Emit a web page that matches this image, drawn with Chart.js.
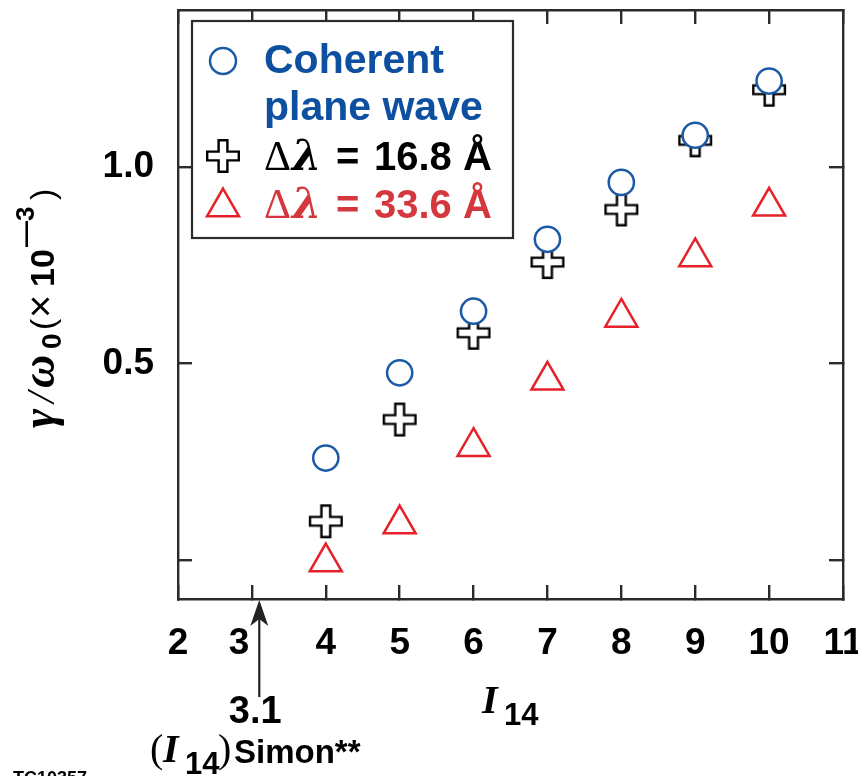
<!DOCTYPE html>
<html>
<head>
<meta charset="utf-8">
<script src="https://cdn.jsdelivr.net/npm/chart.js@4.4.0/dist/chart.umd.min.js"></script>
<style>
  html, body { margin: 0; padding: 0; background: #fff; }
  #wrap { width: 858px; height: 776px; }
</style>
</head>
<body>
<div id="wrap"><canvas id="growthChart" width="858" height="776"></canvas></div>
<script>
// laser intensity I14 of each run
var intensities = [4, 5, 6, 7, 8, 9, 10];
// growth rate gamma/omega0 (x10^-3)
var coherentRates = [0.259, 0.476, 0.633, 0.816, 0.961, 1.081, 1.219];
var bandwidth168Rates = [0.098, 0.357, 0.578, 0.758, 0.892, 1.068, 1.197];
var bandwidth336Rates = [-0.006, 0.091, 0.288, 0.457, 0.617, 0.771, 0.900];

var xTicks = [2, 3, 4, 5, 6, 7, 8, 9, 10, 11];
var xTickLabels = ['2', '3', '4', '5', '6', '7', '8', '9', '10', '11'];
var yTicks = [0, 0.5, 1.0];
var yTickLabels = ['', '0.5', '1.0'];
var simonThreshold = 3.1;

var BLUE = '#1b5aa6';
var RED = '#e62129';
var AXIS = '#2b2b2b';
var SANS = '"Liberation Sans", Arial, sans-serif';
var SERIF = '"Liberation Serif", "Times New Roman", serif';

function toPoints(values) {
    return intensities.map(function (x, i) { return { x: x, y: values[i] }; });
}

// outlined plus sign, used as a point style
function makeCross() {
    var c = document.createElement('canvas');
    c.width = 40; c.height = 40;
    var g = c.getContext('2d');
    var a = 4.4, L = 15.8;
    g.translate(20, 20);
    g.beginPath();
    g.moveTo(-a, -L); g.lineTo(a, -L); g.lineTo(a, -a); g.lineTo(L, -a);
    g.lineTo(L, a); g.lineTo(a, a); g.lineTo(a, L); g.lineTo(-a, L);
    g.lineTo(-a, a); g.lineTo(-L, a); g.lineTo(-L, -a); g.lineTo(-a, -a);
    g.closePath();
    g.fillStyle = '#fff';
    g.fill();
    g.lineWidth = 2.4;
    g.lineJoin = 'miter';
    g.strokeStyle = '#000';
    g.stroke();
    return c;
}
var crossImg = makeCross();

function fixedTicks(values) {
    return function (scale) {
        scale.ticks = values.map(function (v) { return { value: v }; });
    };
}

var tickFont = { family: SANS, weight: 'bold', size: 37, lineHeight: 1 };

function edgeGrid() {
    return {
        display: true,
        drawOnChartArea: false,
        drawTicks: true,
        tickLength: -14,
        color: AXIS,
        lineWidth: 2.4
    };
}
var edgeBorder = { display: true, color: AXIS, width: 2.4 };

var annotations = {
    id: 'annotations',
    afterDraw: function (chart) {
        var ctx = chart.ctx;
        var xs = chart.scales.x;

        ctx.save();

        // legend
        ctx.fillStyle = '#fff';
        ctx.fillRect(192, 21, 321, 217);
        ctx.lineWidth = 2.2;
        ctx.strokeStyle = AXIS;
        ctx.strokeRect(192, 21, 321, 217);

        ctx.beginPath();
        ctx.arc(223, 61, 13, 0, Math.PI * 2);
        ctx.lineWidth = 2.5;
        ctx.strokeStyle = BLUE;
        ctx.stroke();

        ctx.drawImage(crossImg, 203, 136);

        ctx.beginPath();
        var r = 18.5, cy = 207;
        ctx.moveTo(223, cy - r);
        ctx.lineTo(223 + r * Math.sin(2 * Math.PI / 3), cy + r / 2);
        ctx.lineTo(223 - r * Math.sin(2 * Math.PI / 3), cy + r / 2);
        ctx.closePath();
        ctx.strokeStyle = RED;
        ctx.stroke();

        ctx.textBaseline = 'alphabetic';
        ctx.textAlign = 'left';
        ctx.fillStyle = '#0d50a0';
        ctx.font = 'bold 41px ' + SANS;
        ctx.fillText('Coherent', 264, 73);
        ctx.fillText('plane wave', 264, 120);

        [['#000', '16.8 Å', 170], ['#d4373d', '33.6 Å', 218]].forEach(function (row) {
            ctx.fillStyle = row[0];
            ctx.font = '42px ' + SERIF;
            ctx.fillText('Δ', 264, row[2]);
            ctx.font = 'italic bold 42px "DejaVu Serif", serif';
            ctx.fillText('λ', 292, row[2]);
            ctx.font = 'bold 40px ' + SANS;
            ctx.fillText('=', 336, row[2]);
            ctx.fillText(row[1], 374, row[2]);
        });

        // Simon threshold arrow
        var px = xs.getPixelForValue(simonThreshold);
        var bottom = chart.chartArea.bottom;
        ctx.fillStyle = '#222';
        ctx.strokeStyle = '#222';
        ctx.lineWidth = 2.2;
        ctx.beginPath();
        ctx.moveTo(px, bottom + 18);
        ctx.lineTo(px, 697);
        ctx.stroke();
        ctx.beginPath();
        ctx.moveTo(px, bottom + 1);
        ctx.lineTo(px + 9, bottom + 27);
        ctx.lineTo(px, bottom + 20);
        ctx.lineTo(px - 9, bottom + 27);
        ctx.closePath();
        ctx.fill();

        ctx.fillStyle = '#000';
        ctx.font = 'bold 38px ' + SANS;
        ctx.textAlign = 'center';
        ctx.fillText(String(simonThreshold), px - 4, 723);
        ctx.textAlign = 'left';

        ctx.font = '40px ' + SERIF;
        ctx.fillText('(', 150, 762);
        ctx.font = 'italic bold 40px ' + SERIF;
        ctx.fillText('I', 163, 762);
        ctx.font = 'bold 31px ' + SANS;
        ctx.fillText('14', 185, 774);
        ctx.font = '40px ' + SERIF;
        ctx.fillText(')', 218, 762);
        ctx.font = 'bold 33px ' + SANS;
        ctx.fillText('Simon**', 234, 763);

        // x axis title
        ctx.font = 'italic bold 40px ' + SERIF;
        ctx.fillText('I', 482, 713);
        ctx.font = 'bold 31px ' + SANS;
        ctx.fillText('14', 504, 725);

        // figure id, cut by the page edge
        ctx.font = 'bold 18px ' + SANS;
        ctx.textBaseline = 'top';
        ctx.fillText('TC10357', 13, 770);
        ctx.textBaseline = 'alphabetic';

        // y axis title, rotated
        ctx.translate(54, 428);
        ctx.rotate(-Math.PI / 2);
        var pieces = [
            ['γ', 'italic bold 46px ' + SERIF, 0, 0],
            ['/', 'italic 40px ' + SERIF, 25, 0],
            ['ω', 'italic bold 46px ' + SERIF, 40, 0],
            ['0', 'bold 28px ' + SANS, 79, 7],
            ['(', '34px ' + SANS, 98, 0],
            ['×', '40px ' + SANS, 110, 0],
            ['10', 'bold 34px ' + SANS, 141, 0],
            ['—3', 'bold 26px ' + SANS, 181, -20],
            [')', '34px ' + SANS, 228, 0]
        ];
        pieces.forEach(function (p) {
            ctx.font = p[1];
            ctx.fillText(p[0], p[2], p[3]);
        });

        ctx.restore();
    }
};

new Chart(document.getElementById('growthChart'), {
    type: 'scatter',
    data: {
        datasets: [
            {
                label: 'Coherent plane wave',
                data: toPoints(coherentRates),
                pointStyle: 'circle',
                pointRadius: 12.6,
                pointBorderWidth: 2.5,
                pointBorderColor: BLUE,
                pointBackgroundColor: '#fff'
            },
            {
                label: 'Δλ = 16.8 Å',
                data: toPoints(bandwidth168Rates),
                pointStyle: crossImg,
                pointRadius: 18
            },
            {
                label: 'Δλ = 33.6 Å',
                data: toPoints(bandwidth336Rates),
                pointStyle: 'triangle',
                pointRadius: 18.5,
                pointBorderWidth: 2.5,
                pointBorderColor: RED,
                pointBackgroundColor: '#fff'
            }
        ]
    },
    options: {
        responsive: false,
        animation: false,
        devicePixelRatio: 1,
        layout: { padding: 0, autoPadding: false },
        plugins: {
            legend: { display: false },
            tooltip: { enabled: false }
        },
        scales: {
            x: {
                type: 'linear',
                position: 'bottom',
                min: 2,
                max: 11,
                afterBuildTicks: fixedTicks(xTicks),
                afterFit: function (s) { s.height = 776 - 599; s.paddingLeft = 0; s.paddingRight = 0; },
                grid: edgeGrid(),
                border: edgeBorder,
                ticks: {
                    color: '#000',
                    font: tickFont,
                    padding: 40,
                    maxRotation: 0,
                    autoSkip: false,
                    callback: function (v, i) {
                        // nudge the 3 left of the arrow, as in the figure
                        return xTickLabels[i] === '3' ? '3\u2002\u2009' : xTickLabels[i];
                    }
                }
            },
            x2: {
                type: 'linear',
                position: 'top',
                min: 2,
                max: 11,
                afterBuildTicks: fixedTicks(xTicks),
                afterFit: function (s) { s.height = 10; s.paddingLeft = 0; s.paddingRight = 0; },
                grid: edgeGrid(),
                border: edgeBorder,
                ticks: { display: false }
            },
            y: {
                type: 'linear',
                position: 'left',
                min: -0.1,
                max: 1.4,
                afterBuildTicks: fixedTicks(yTicks),
                afterFit: function (s) { s.width = 178; s.paddingTop = 0; s.paddingBottom = 0; },
                grid: edgeGrid(),
                border: edgeBorder,
                ticks: {
                    color: '#000',
                    font: tickFont,
                    padding: 38,
                    callback: function (v, i) { return yTickLabels[i]; }
                }
            },
            y2: {
                type: 'linear',
                position: 'right',
                min: -0.1,
                max: 1.4,
                afterBuildTicks: fixedTicks(yTicks),
                afterFit: function (s) { s.width = 858 - 843; s.paddingTop = 0; s.paddingBottom = 0; },
                grid: edgeGrid(),
                border: edgeBorder,
                ticks: { display: false }
            }
        }
    },
    plugins: [annotations]
});
</script>
</body>
</html>
